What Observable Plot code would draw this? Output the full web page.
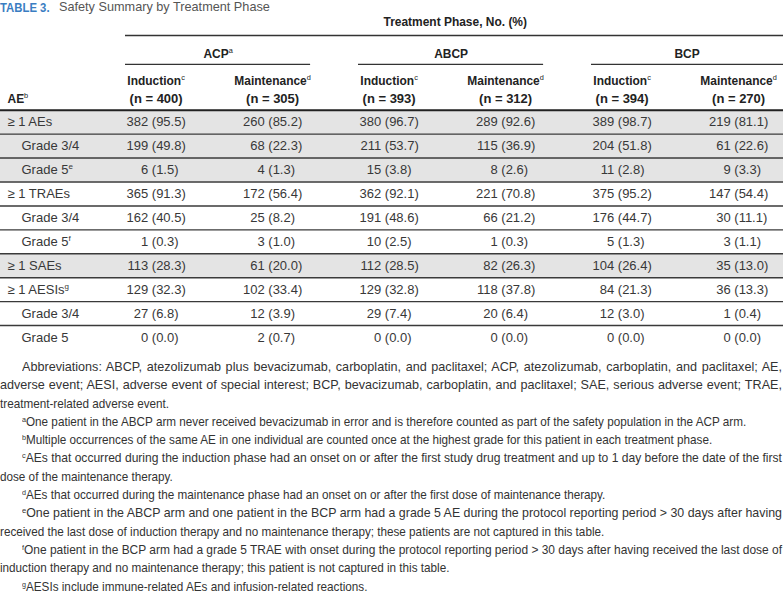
<!DOCTYPE html>
<html>
<head>
<meta charset="utf-8">
<script src="https://cdn.jsdelivr.net/npm/d3@7"></script>
<script src="https://cdn.jsdelivr.net/npm/@observablehq/plot@0.6"></script>
<style>
  body { margin: 0; background: #fff; width: 783px; overflow: hidden; }
  #title { position: relative; height: 14px; line-height: 14px; font: 12.7px "Liberation Sans", Arial, sans-serif; color: #555; white-space: nowrap; overflow: hidden; }
  #title b { position: absolute; left: 0; top: 0; color: #3a7dc2; font-size: 13.5px; display: inline-block; transform: scaleX(0.84); transform-origin: 0 0; }
  #title span { position: absolute; left: 59px; top: 0; }
  #chart svg { display: block; }
  #notes { margin-top: 6px; font-family: "Liberation Sans", Arial, sans-serif; font-size: 13px; line-height: 18.3px; color: #333; }
  #notes div { white-space: nowrap; height: 18.3px; }
  #notes div.ind { padding-left: 22px; }
  #notes .ln { display: inline-block; white-space: nowrap; transform-origin: 0 50%; }
  #notes sup { font-size: 8px; vertical-align: 4px; line-height: 0; }
</style>
</head>
<body>
<div id="title"><b>TABLE 3.</b><span>Safety Summary by Treatment Phase</span></div>
<div id="chart"></div>
<div id="notes"></div>
<script>
// ---- data ----
const arms = ["ACP^a", "ABCP", "BCP"];
const phases = ["Induction^c", "Maintenance^d"];
const nValues = [400, 305, 393, 312, 394, 270];
const aeLabels = ["≥ 1 AEs", "Grade 3/4", "Grade 5^e", "≥ 1 TRAEs", "Grade 3/4", "Grade 5^f", "≥ 1 SAEs", "≥ 1 AESIs^g", "Grade 3/4", "Grade 5"];
const indentLevel = [0, 1, 1, 0, 1, 1, 0, 0, 1, 1];
const shadedRow = [1, 1, 1, 0, 0, 0, 1, 0, 0, 0];
const counts = [
  [382, 260, 380, 289, 389, 219],
  [199, 68, 211, 115, 204, 61],
  [6, 4, 15, 8, 11, 9],
  [365, 172, 362, 221, 375, 147],
  [162, 25, 191, 66, 176, 30],
  [1, 3, 10, 1, 5, 3],
  [113, 61, 112, 82, 104, 35],
  [129, 102, 129, 118, 84, 36],
  [27, 12, 29, 20, 12, 1],
  [0, 2, 0, 0, 0, 0]
];
const percents = [
  [95.5, 85.2, 96.7, 92.6, 98.7, 81.1],
  [49.8, 22.3, 53.7, 36.9, 51.8, 22.6],
  [1.5, 1.3, 3.8, 2.6, 2.8, 3.3],
  [91.3, 56.4, 92.1, 70.8, 95.2, 54.4],
  [40.5, 8.2, 48.6, 21.2, 44.7, 11.1],
  [0.3, 1.0, 2.5, 0.3, 1.3, 1.1],
  [28.3, 20.0, 28.5, 26.3, 26.4, 13.0],
  [32.3, 33.4, 32.8, 37.8, 21.3, 13.3],
  [6.8, 3.9, 7.4, 6.4, 3.0, 0.4],
  [0.0, 0.7, 0.0, 0.0, 0.0, 0.0]
];
const spanner = "Treatment Phase, No. (%)";
const stubHeader = "AE^b";
const notes = [
  {t: "Abbreviations: ABCP, atezolizumab plus bevacizumab, carboplatin, and paclitaxel; ACP, atezolizumab, carboplatin, and paclitaxel; AE,", c: "ind"},
  {t: "adverse event; AESI, adverse event of special interest; BCP, bevacizumab, carboplatin, and paclitaxel; SAE, serious adverse event; TRAE,", c: ""},
  {t: "treatment-related adverse event.", c: "last"},
  {t: "^aOne patient in the ABCP arm never received bevacizumab in error and is therefore counted as part of the safety population in the ACP arm.", c: "ind last"},
  {t: "^bMultiple occurrences of the same AE in one individual are counted once at the highest grade for this patient in each treatment phase.", c: "ind last"},
  {t: "^cAEs that occurred during the induction phase had an onset on or after the first study drug treatment and up to 1 day before the date of the first", c: "ind"},
  {t: "dose of the maintenance therapy.", c: "last"},
  {t: "^dAEs that occurred during the maintenance phase had an onset on or after the first dose of maintenance therapy.", c: "ind last"},
  {t: "^eOne patient in the ABCP arm and one patient in the BCP arm had a grade 5 AE during the protocol reporting period > 30 days after having", c: "ind"},
  {t: "received the last dose of induction therapy and no maintenance therapy; these patients are not captured in this table.", c: "last"},
  {t: "^fOne patient in the BCP arm had a grade 5 TRAE with onset during the protocol reporting period > 30 days after having received the last dose of", c: "ind"},
  {t: "induction therapy and no maintenance therapy; this patient is not captured in this table.", c: "last"},
  {t: "^gAESIs include immune-related AEs and infusion-related reactions.", c: "ind last"}
];

// ---- build tables ----
const colKeys = arms.flatMap(a => phases.map(p => a + "|" + p));
const headerKeys = ["h0", "h1", "h2", "h3"];
const rowKeys = aeLabels.map((_, i) => "r" + i);
const yDomain = headerKeys.concat(rowKeys);
const tableH = 335;
const rowH = tableH / yDomain.length;

const rows = rowKeys.map((k, i) => ({row: k, label: aeLabels[i], indent: indentLevel[i], shaded: shadedRow[i]}));
const cells = [];
rowKeys.forEach((k, i) => colKeys.forEach((c, j) => cells.push({row: k, col: c, count: counts[i][j], pct: percents[i][j]})));
const colHeads = colKeys.map((c, j) => ({col: c, phase: phases[j % 2], n: "(n = " + nValues[j] + ")"}));
const groups = arms.map((a, i) => ({arm: a, first: colKeys[2 * i], last: colKeys[2 * i + 1]}));

const bodyFont = "'Liberation Sans', Arial, sans-serif";
const ink = "#383838";
const head = {fontFamily: bodyFont, fontWeight: "bold", fontSize: 13, fill: "#222"};

const chart = Plot.plot({
  width: 783,
  height: 338,
  margin: 0,
  x: {type: "point", domain: colKeys, range: [155.6, 738.1], padding: 0, round: false, axis: null},
  y: {type: "band", domain: yDomain, range: [0, tableH], padding: 0, round: false, axis: null},
  style: {fontFamily: bodyFont, fontSize: "13px", color: ink, background: "#fff"},
  marks: [
    Plot.cell(rows.filter(r => r.shaded), {y: "row", fill: "#e4e4e4"}),
    Plot.ruleY(rows.slice(0, -1), {y: "row", dy: rowH / 2, stroke: "#3a3a3a", strokeWidth: 1.4}),
    Plot.ruleY(["h3"], {y: d => d, dy: rowH / 2, stroke: "#222", strokeWidth: 2}),
    // spanner
    Plot.ruleY([spanner], {y: () => "h0", x1: () => colKeys[0], x2: () => colKeys[5], dy: rowH / 2 - 3, insetLeft: -30.6, insetRight: -45, stroke: "#333", strokeWidth: 1.4}),
    Plot.text([spanner], {y: () => "h0", x: () => colKeys[2], text: d => d, textAnchor: "start", dx: -5.6, dy: -5, ...head}),
    // arm groups
    Plot.ruleY(groups.slice(0, 2), {y: () => "h2", x1: "first", x2: "last", dy: -rowH / 2 + 2, insetLeft: -30.6, insetRight: -38, stroke: "#333", strokeWidth: 1.4}),
    Plot.ruleY(groups.slice(2), {y: () => "h2", x1: "first", x2: "last", dy: -rowH / 2 + 2, insetLeft: -30.6, insetRight: -45, stroke: "#333", strokeWidth: 1.4}),
    Plot.text(groups.slice(0, 2), {y: () => "h1", x: "first", text: "arm", dx: 62, dy: 3, ...head}),
    Plot.text(groups.slice(2), {y: () => "h1", x: "first", text: "arm", dx: 65, dy: 3, ...head}),
    // column heads
    Plot.text(colHeads, {y: () => "h2", x: "col", text: "phase", dy: 7, ...head}),
    Plot.text(colHeads, {y: () => "h3", x: "col", text: "n", dy: 1, ...head, fontWeight: "600"}),
    Plot.text([stubHeader], {y: () => "h3", text: d => d, frameAnchor: "left", dx: 7, dy: 1, ...head}),
    // stub labels
    Plot.text(rows, {y: "row", text: "label", frameAnchor: "left", fill: ink}),
    // values: count right-aligned, percentage left-aligned after it
    Plot.text(cells, {y: "row", x: "col", text: d => String(d.count), textAnchor: "end", dx: -7.9, fill: ink}),
    Plot.text(cells, {y: "row", x: "col", text: d => "(" + d.pct.toFixed(1) + ")", textAnchor: "start", dx: -4.3, fill: ink})
  ]
});
document.getElementById("chart").appendChild(chart);

// stub indentation
chart.querySelectorAll("g[aria-label='text']").forEach(g => {
  const ts = Array.from(g.querySelectorAll("text"));
  if (ts.length === aeLabels.length && ts.every((t, i) => t.textContent === aeLabels[i])) {
    ts.forEach((t, i) => {
      t.setAttribute("x", 7 + (indentLevel[i] ? 14 : 0));
      t.setAttribute("text-anchor", "start");
    });
  }
});
// superscripts
chart.querySelectorAll("text").forEach(t => {
  const s = t.textContent;
  const k = s.indexOf("^");
  if (k >= 0 && t.children.length === 0) {
    t.textContent = s.slice(0, k);
    const sp = document.createElementNS("http://www.w3.org/2000/svg", "tspan");
    sp.setAttribute("font-size", "8");
    sp.setAttribute("dy", "-5");
    sp.setAttribute("font-weight", "normal");
    sp.textContent = s.slice(k + 1);
    t.appendChild(sp);
  }
});
// condensed bold headers: horizontal squeeze about each text's anchor
chart.querySelectorAll("g[font-weight='bold'] text").forEach(t => {
  const tr = t.getAttribute("transform");
  if (tr) {
    t.setAttribute("transform", tr + " scale(0.92,1)");
  } else {
    const X = +(t.getAttribute("x") || 0);
    t.setAttribute("transform", `translate(${X},0) scale(0.92,1) translate(${-X},0)`);
  }
});

// footnotes: justified / condensed lines
const notesEl = document.getElementById("notes");
const condense = 0.9;
notes.forEach(n => {
  const div = document.createElement("div");
  div.className = n.c;
  const span = document.createElement("span");
  span.className = "ln";
  const m = n.t.match(/^\^(\w)(.*)$/);
  if (m) {
    const sup = document.createElement("sup");
    sup.textContent = m[1];
    span.appendChild(sup);
    span.appendChild(document.createTextNode(m[2]));
  } else {
    span.textContent = n.t;
  }
  div.appendChild(span);
  notesEl.appendChild(div);
  const avail = 783 - (n.c.includes("ind") ? 22 : 0) - 1;
  const w = span.getBoundingClientRect().width;
  let s = condense;
  if (!n.c.includes("last")) {
    const spaces = (n.t.match(/ /g) || []).length;
    s = Math.min(0.97, avail / w);
    const extra = Math.max(0, avail / s - w);
    span.style.wordSpacing = (extra / spaces).toFixed(3) + "px";
  } else if (w * s > avail) {
    s = avail / w;
  }
  span.style.transform = "scaleX(" + s.toFixed(4) + ")";
});
</script>
</body>
</html>
